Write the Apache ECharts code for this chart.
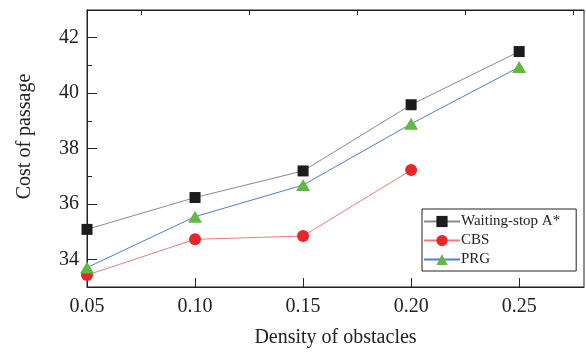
<!DOCTYPE html>
<html>
<head>
<meta charset="utf-8">
<script src="https://cdn.jsdelivr.net/npm/echarts@6/dist/echarts.min.js"></script>
<style>
  html, body {margin: 0; padding: 0; background: #fff;}
  #chart {width: 586px; height: 353px;}
</style>
</head>
<body>
<div id="chart"></div>
<script>
// density of obstacles
const densities = [0.05, 0.10, 0.15, 0.20, 0.25];
const waitingStop = [35.08, 36.23, 37.19, 39.58, 41.50];
const cbs = [33.43, 34.72, 34.84, 37.22];
const prg = [33.70, 35.54, 36.68, 38.89, 40.94];

const xMajor = [0.05, 0.10, 0.15, 0.20, 0.25];
const xMinor = [0.075, 0.125, 0.175, 0.225, 0.275];
const yMajor = [34, 36, 38, 40, 42];
const yMinor = [35, 37, 39, 41];

const font = 'Liberation Serif';

function pairs(xs, ys) {
  return ys.map((y, i) => [xs[i], y]);
}

const chart = echarts.init(document.getElementById('chart'));

const baseX = {
  type: 'value', min: 0.05, max: 0.28,
  splitLine: {show: false},
  axisLine: {show: true, lineStyle: {color: '#222', width: 1}}
};
const baseY = {
  type: 'value', min: 33, max: 43,
  splitLine: {show: false},
  axisLine: {show: true, lineStyle: {color: '#222', width: 1}}
};

let option = {
  animation: false,
  backgroundColor: '#fff',
  grid: {
    left: 87, top: 10, right: 2, bottom: 61,
    show: true, borderColor: '#222', borderWidth: 1
  },
  legend: {
    orient: 'vertical',
    left: 422, top: 209,
    itemWidth: 36, itemHeight: 14, itemGap: 4,
    padding: [5, 16, 4, 1],
    borderColor: '#222', borderWidth: 1,
    backgroundColor: '#fff',
    textStyle: {fontFamily: font, fontSize: 15, color: '#222', padding: [0, 0, 0, -4]},
    data: ['Waiting-stop A*', 'CBS', 'PRG']
  },
  xAxis: [
    Object.assign({}, baseX, {
      name: 'Density of obstacles',
      nameLocation: 'middle', nameGap: 41,
      nameTextStyle: {fontFamily: font, fontSize: 20, color: '#222'},
      axisTick: {show: true, inside: true, length: 9, customValues: xMajor, lineStyle: {color: '#222'}},
      axisLabel: {
        customValues: xMajor, margin: 10,
        fontFamily: font, fontSize: 20, color: '#222',
        formatter: v => v.toFixed(2)
      }
    }),
    Object.assign({}, baseX, {
      axisTick: {show: true, inside: true, length: 5, customValues: xMinor, lineStyle: {color: '#222'}},
      axisLabel: {show: false}
    })
  ],
  yAxis: [
    Object.assign({}, baseY, {
      name: 'Cost of passage',
      nameLocation: 'middle', nameGap: 52,
      nameTextStyle: {fontFamily: font, fontSize: 20, color: '#222', padding: [0, 0, 0, 24]},
      axisTick: {show: true, inside: true, length: 10, customValues: yMajor, lineStyle: {color: '#222'}},
      axisLabel: {
        customValues: yMajor, margin: 8,
        fontFamily: font, fontSize: 20, color: '#222'
      }
    }),
    Object.assign({}, baseY, {
      position: 'left',
      axisTick: {show: true, inside: true, length: 5, customValues: yMinor, lineStyle: {color: '#222'}},
      axisLabel: {show: false}
    })
  ],
  series: [
    {
      name: 'Waiting-stop A*', type: 'line',
      data: pairs(densities, waitingStop),
      symbol: 'rect', symbolSize: 11,
      itemStyle: {color: '#1c1c1c'},
      lineStyle: {color: '#8a8a8a', width: 1},
      z: 3
    },
    {
      name: 'CBS', type: 'line',
      data: pairs(densities, cbs),
      symbol: 'circle', symbolSize: 12,
      itemStyle: {color: '#e8262a'},
      lineStyle: {color: '#f07a7a', width: 1},
      z: 2
    },
    {
      name: 'PRG', type: 'line',
      data: pairs(densities, prg),
      symbol: 'triangle', symbolSize: [14, 12],
      itemStyle: {color: '#62b842'},
      lineStyle: {color: '#4c80d0', width: 1},
      z: 4
    }
  ]
};

chart.setOption(option);
</script>
</body>
</html>
